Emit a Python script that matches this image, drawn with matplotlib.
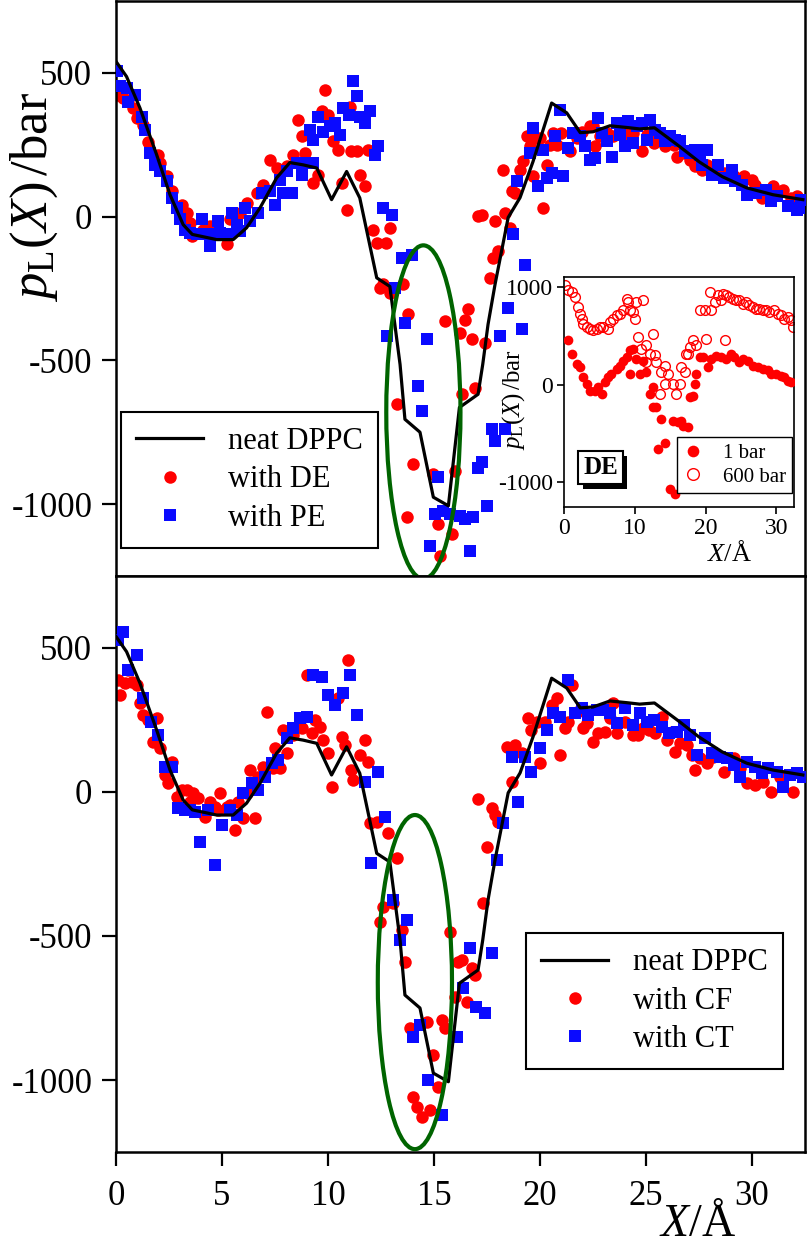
import numpy as np
import matplotlib
matplotlib.use('Agg')
import matplotlib.pyplot as plt
import matplotlib.patheffects as pe
from matplotlib.patches import Ellipse

plt.rcParams['font.family'] = ['Liberation Serif', 'DejaVu Serif']
plt.rcParams['mathtext.fontset'] = 'custom'
plt.rcParams['mathtext.rm'] = 'Liberation Serif'
plt.rcParams['mathtext.it'] = 'Liberation Serif:italic'
plt.rcParams['axes.unicode_minus'] = False

# neat DPPC reference profile
dppc_x = [0, 0.5, 1.13, 1.92, 2.55, 3.17, 3.6, 4.75, 5.53, 6.16, 6.8, 7.58, 8.2, 8.83, 9.47,
          10.17, 10.88, 11.5, 12.3, 12.92, 13.4, 13.63, 14.34, 14.97, 15.68, 16.2, 17.08,
          17.3, 17.55, 17.88, 18.5, 19.06, 19.67, 20.55, 21.26, 21.9, 22.5, 23.3, 24.1,
          24.7, 25.4, 26.6, 27.5, 28.6, 29.75, 31.0, 32.4]
dppc_y = [540, 487, 378, 215, 76, -28, -62, -80, -80, -39, 31, 135, 188, 180, 169,
          59, 157, 65, -213, -243, -514, -705, -750, -976, -1006, -664, -618,
          -514, -375, -236, -3, 66, 191, 395, 361, 292, 295, 316, 310,
          305, 309, 243, 191, 139, 100, 76, 59]

# top panel: with DE
de_x = [0.11, 0.34, 0.58, 0.82, 0.97, 1.29, 1.53, 2.0, 2.07, 2.39, 2.63, 3.1, 3.33, 3.49, 3.57,
        4.1, 4.43, 4.75, 5.22, 5.38, 5.85, 6.16, 6.64, 6.95, 7.26, 7.58, 8.05, 8.36, 8.6,
        8.76, 8.92, 9.3, 9.55, 9.7, 9.86, 10.0, 10.25, 10.49, 10.65, 10.88, 11.04, 11.1,
        11.35, 11.5, 11.75, 11.9, 12.13, 12.29, 12.76, 12.92, 12.45, 12.6, 13.79,
        12.92, 13.55, 15.52, 16.46, 16.62, 17.1, 17.25, 17.88, 18.35, 18.58, 17.64, 17.8,
        18.03, 18.27, 18.66, 18.81, 19.06, 19.21, 19.37, 19.53, 19.76, 20.0, 19.69, 20.16,
        20.31, 20.63, 21.0, 20.79, 20.47, 21.42, 21.73, 21.97, 22.36, 22.6, 22.83, 22.5,
        23.14, 23.45, 23.92, 24.16, 24.4, 24.8, 25.05, 25.36, 25.52, 25.91, 26.3, 26.46,
        26.77, 27.08, 27.32, 27.63, 27.87, 28.26, 28.66, 29.13, 29.6, 30.0, 30.14, 30.46,
        31.0, 31.48, 31.86, 32.1,
        13.24, 14.03, 13.71, 14.97, 15.2, 15.83, 15.28, 15.99, 16.3, 16.23, 16.78, 16.93, 17.41]
de_y = [424, 412, 406, 377, 342, 319, 261, 215, 186, 140, 88, 42, 13, -22, -68,
        -45, -34, -57, -97, -10, 13, 47, 82, 111, 198, 169, 175, 215, 337,
        279, 221, 117, 146, 366, 441, 354, 262, 233, 117, 24, 383, 227,
        227, 146, 105, 233, -45, -91, -91, -39, -248, -236, -340,
        -265, -236, -363, -358, -323, 1, 7, -16, 13, -39, -213, -144,
        -120, 163, 88, 82, 163, 192, 279, 244, 273, 273, 140, 30,
        181, 290, 290, 250, 250, 227, 273, 296, 314, 244, 279, 314,
        290, 279, 296, 279, 290, 227, 285, 256, 267, 244, 250, 209,
        221, 198, 175, 163, 181, 163, 152, 140, 140, 128, 111, 65,
        105, 94, 65, 71,
        -653, -861, -1046, -896, -1069, -1104, -1179, -884, -618, -404, -427, -595, -438]

# top panel: with PE
pe_x = [0.03, 0.19, 0.5, 0.9, 0.58, 1.21, 1.37, 1.6, 1.84, 2.07, 2.39, 2.63, 2.86, 3.02, 3.25,
        3.49, 3.8, 4.04, 4.35, 4.43, 4.82, 4.9, 5.3, 5.45, 5.69, 5.85, 6.08, 6.32, 6.71,
        6.87, 7.26, 7.5, 7.89, 8.28, 7.73, 8.05, 8.52, 8.76, 9.07, 9.15, 9.3, 9.55, 9.3,
        9.78, 10.1, 10.33, 10.57, 10.73, 10.97, 11.2, 11.35, 11.5, 11.75, 11.98, 12.21,
        12.37, 12.6, 13.0, 13.47, 13.16, 13.63,
        13.94, 18.5, 18.74, 19.3, 18.9, 19.53, 19.69, 19.92, 20.16, 20.31, 20.55, 20.71,
        20.94, 21.1, 21.34, 21.57, 21.89, 22.12, 22.36, 22.6, 22.75, 22.91, 23.14, 23.38,
        23.62, 23.77, 24.0, 24.16, 24.4, 24.56, 24.8, 25.05, 25.2, 25.44, 25.68, 25.91,
        26.15, 26.38, 26.62, 26.85, 27.08, 27.32, 27.55, 27.87, 27.63, 28.1, 28.42, 28.66,
        29.05, 29.2, 29.52, 29.75, 30.2, 30.67, 30.9, 31.2, 31.7, 32.1, 32.3, 32.2,
        12.77, 14.66, 14.27, 14.43, 15.2, 15.05, 15.44, 15.75, 16.23, 16.46, 16.86, 14.81,
        16.7, 17.49, 17.1, 17.25, 17.72, 18.35, 17.88, 18.11, 19.14]
pe_y = [505, 453, 447, 424, 400, 348, 302, 221, 181, 157, 123, 65, 30, -10, -45,
        -57, -62, -10, -62, -103, -16, -57, -62, 13, -28, -51, 30, -16, 13,
        82, 88, 42, 82, 82, 128, 157, 186, 146, 186, 302, 186, 348, 267,
        296, 314, 325, 285, 377, 354, 470, 418, 348, 325, 366, 215,
        244, 30, 7, -144, -248, -369,
        -132, -317, -62, -167, 123, 221, 308, 105, 233, 134, 152, 279,
        371, 140, 238, 290, 279, 244, 198, 204, 342, 290, 262, 209,
        325, 285, 244, 331, 256, 314, 325, 267, 337, 302, 290, 262,
        279, 267, 262, 227, 221, 233, 215, 233, 181, 146, 181, 134,
        163, 123, 111, 76, 82, 94, 53, 71, 36, 24, 59, 30,
        -415, -427, -589, -676, -907, -1034, -1023, -1034, -1040, -1052, -1046, -1145,
        -1162, -1006, -873, -855, -740, -740, -780, -415, -392]

# bottom panel: with CF
cf_x = [0.11, 0.19, 0.42, 0.58, 0.74, 0.97, 1.13, 1.29, 1.53, 1.92, 1.76, 2.07, 2.31, 2.47, 2.63,
        2.86, 3.1, 3.33, 3.49, 3.65, 3.88, 4.2, 4.43, 4.67, 4.9, 4.82, 5.22, 5.38, 5.61,
        5.77, 6.0, 6.16, 6.32, 6.56, 6.71, 6.95, 7.11, 7.42, 7.5, 7.73, 7.89, 8.05, 8.36,
        8.76, 9.0, 9.23, 9.38, 9.62, 9.78, 10.0, 10.17, 10.49, 10.65, 10.8, 10.96, 11.1,
        11.2, 11.5, 11.75, 11.9, 11.98, 12.29, 12.84, 13.24, 12.45, 12.6, 13.08, 13.47,
        15.75, 17.09, 17.72, 17.88, 18.03, 18.19, 17.48, 17.33, 18.66, 18.43, 18.82, 19.14,
        19.6, 19.45, 19.84, 20.24, 20.0, 20.94, 20.55, 20.79, 21.5, 21.18, 21.34, 21.73,
        22.04, 22.2, 22.5, 22.75, 23.06, 23.3, 23.45, 23.62, 24.0, 24.4, 24.64, 24.88,
        25.12, 25.44, 25.75, 25.99, 26.23, 26.38, 26.62, 26.93, 27.16, 27.32, 27.55, 27.87,
        28.18, 28.66, 29.13, 29.44, 29.75, 30.14, 30.53, 30.92, 31.3, 31.6, 31.92,
        13.63, 13.87, 14.03, 14.18, 14.42, 14.66, 14.81, 14.97, 15.2, 15.36, 15.52, 15.99,
        16.15, 16.3, 16.54, 16.78, 16.93]
cf_y = [389, 337, 377, 423, 383, 371, 308, 267, 250, 256, 175, 152, 59, 30, 105,
        -16, 7, 7, -34, -5, -22, -86, -34, -51, -5, -62, -51, -45, -132,
        -34, -91, -5, 76, -91, 53, 88, 279, 82, 152, 82, 215, 134, 198,
        221, 406, 204, 250, 227, 181, 134, 18, 325, 192, 163, 458, 76,
        42, 128, 181, 105, -109, -103, -143, -230, -450, -398, -386, -479,
        -485, -25, -57, -80, -103, -103, -190, -386, 36, 157, 163, 134,
        215, 256, 244, 244, 100, 128, 302, 325, 371, 221, 244, 279,
        221, 238, 175, 204, 209, 256, 308, 204, 244, 198, 198, 221,
        215, 204, 262, 181, 209, 140, 169, 163, 128, 76, 117, 100,
        123, 71, 117, 82, 30, 24, 36, 1, 53, 59, 1,
        -589, -820, -1058, -1093, -1127, -797, -1104, -913, -1023, -791, -820, -711,
        -589, -583, -728, -612, -635]

# bottom panel: with CT
ct_x = [0.11, 0.31, 0.97, 0.58, 1.29, 1.65, 1.97, 2.31, 2.63, 2.94, 3.25, 3.49, 3.73, 3.96, 4.35,
        4.67, 4.98, 5.38, 5.69, 6.0, 6.4, 6.71, 7.03, 7.34, 7.66, 8.05, 8.36, 8.68, 9.0,
        9.3, 9.7, 10.0, 10.33, 10.73, 11.04, 11.35, 11.75, 12.37, 12.68, 12.05, 13.08, 13.71,
        13.39, 17.95, 18.27, 18.97, 18.66, 19.29, 19.6, 20.0, 20.31, 20.63, 20.94, 21.34,
        21.65, 21.97, 22.28, 22.67, 22.99, 23.3, 23.62, 24.0, 24.4, 24.72, 25.05, 25.36,
        25.75, 26.07, 26.46, 26.77, 27.08, 27.4, 27.79, 28.1, 28.5, 28.82, 29.13, 29.44,
        29.75, 30.14, 30.46, 30.77, 31.17, 31.48, 31.8, 32.1, 32.4,
        14.03, 14.34, 14.74, 15.36, 16.07, 16.38, 16.7, 17.0, 17.41, 17.72]
ct_y = [528, 557, 476, 423, 325, 244, 198, 88, 88, -57, -62, -62, -68, -172, -62,
        -253, -115, -62, -80, -5, 30, 7, 53, 100, 111, 186, 221, 256, 262,
        406, 400, 337, 302, 342, 406, 267, 36, 71, -86, -248, -375, -444,
        -514, -236, -109, -34, 123, 123, 71, 152, 215, 273, 262, 389,
        273, 290, 267, 285, 285, 273, 238, 290, 233, 273, 244, 250,
        227, 204, 209, 233, 198, 128, 186, 134, 123, 117, 94, 53,
        105, 88, 65, 82, 71, 18, 59, 65, 53,
        -849, -809, -999, -1121, -849, -681, -543, -745, -768, -560]

# inset: DE at 1 bar and 600 bar
de1_x = [0.61, 1.08, 1.78, 2.25, 2.72, 3.19, 3.66, 4.37, 4.84, 5.31, 5.77, 6.24, 6.71, 7.42,
         7.89, 8.36, 8.83, 9.3, 9.77, 9.3, 10.23, 10.7, 11.17, 11.64, 12.11, 12.58, 12.58,
         13.05, 13.76, 13.29, 14.23, 14.93, 15.63, 15.4, 16.1, 16.57, 16.81, 17.51, 17.75,
         18.22, 18.45, 18.69, 19.15, 19.62, 20.33, 20.8, 21.5, 22.2, 22.9, 23.6, 24.08,
         24.79, 25.26, 25.96, 26.67, 27.37, 28.07, 28.78, 29.25, 29.95, 30.66, 31.13, 31.6, 32.07]
de1_y = [451, 315, 212, 178, 75, 7, -62, -62, -27, -96, 24, 75, 109, 161,
         195, 246, 280, 349, 366, 109, 263, 109, 246, 127, -96, -27, -233,
         -233, -352, -660, -592, -1070, -1122, -369, -387, -369, -421, -438, -130,
         -113, 7, 109, 280, 280, 178, 263, 297, 280, 263, 315, 280,
         229, 263, 246, 195, 178, 161, 144, 109, 109, 92, 75, 41, 24]
de600_x = [0.14, 0.61, 1.08, 1.55, 2.0, 2.25, 2.49, 2.72, 3.19, 3.66, 4.13, 4.6, 5.07, 5.54,
           6.24, 6.48, 6.95, 7.42, 7.89, 8.36, 8.83, 9.06, 9.3, 9.77, 10.0, 10.23, 11.17,
           10.47, 10.94, 11.64, 12.11, 12.58, 12.82, 13.05, 11.64, 13.52, 13.76, 14.23, 14.23,
           14.7, 15.4, 15.87, 16.34, 16.57, 17.04, 17.28, 17.75, 18.22, 18.69, 17.51, 19.15,
           19.86, 20.09, 20.8, 20.56, 21.27, 21.74, 22.2, 22.44, 22.9, 22.68, 23.38, 23.85,
           24.32, 24.79, 25.26, 25.73, 26.2, 26.67, 27.14, 27.6, 28.07, 28.54, 29.0, 29.7,
           30.19, 30.66, 31.13, 31.6, 32.07, 32.3]
de600_y = [1016, 964, 947, 896, 793, 725, 674, 622, 588, 571, 554, 571, 588, 588,
           571, 640, 674, 708, 725, 759, 879, 845, 759, 742, 674, 845, 862,
           486, 366, 400, 315, 520, 298, 229, 229, -96, 127, 195, 7,
           109, 7, -96, 7, 178, 127, 315, 383, 451, 400, 315, 759,
           759, 469, 759, 947, 845, 913, 862, 930, 913, 451, 896, 879,
           862, 862, 827, 845, 810, 793, 776, 776, 759, 759, 742, 759,
           725, 708, 674, 691, 657, 588]

red = '#ff0000'
blue = '#0a0aff'
green = '#006400'

fig = plt.figure(figsize=(8.07, 12.48), dpi=100)
ax1 = fig.add_axes([0.1437, 0.5385, 0.8538, 0.4607])
ax2 = fig.add_axes([0.1437, 0.0769, 0.8538, 0.4616])


def panel(ax, rx, ry, bx, by, rlab, blab, ell):
    ax.plot(dppc_x, dppc_y, color='black', lw=2.3, label='neat DPPC', zorder=4)
    ax.plot(rx, ry, 'o', color=red, ms=9, mew=0, label=rlab, zorder=2)
    ax.plot(bx, by, 's', color=blue, ms=8, mew=0, label=blab, zorder=3)
    ax.add_patch(Ellipse(ell, 3.5, 1160, fill=False, ec=green, lw=3, zorder=5))
    ax.set_xlim(0, 32.5)
    ax.set_ylim(-1250, 750)
    ax.set_yticks([-1000, -500, 0, 500])
    ax.set_xticks([0, 5, 10, 15, 20, 25, 30])
    ax.tick_params(direction='out', length=10, width=1.6, labelsize=25, pad=7,
                   right=False, top=False)
    for s in ax.spines.values():
        s.set_linewidth(1.8)


panel(ax1, de_x, de_y, pe_x, pe_y, 'with DE', 'with PE', (14.5, -680))
panel(ax2, cf_x, cf_y, ct_x, ct_y, 'with CF', 'with CT', (14.1, -660))
ax1.tick_params(axis='x', bottom=False, labelbottom=False)
ax2.tick_params(axis='x', pad=10)

leg_kw = dict(fontsize=22, frameon=True, fancybox=False, edgecolor='black', framealpha=1,
              borderaxespad=0, handlelength=2.2, labelspacing=0.3, numpoints=1,
              handletextpad=0.8, borderpad=0.5)
l1 = ax1.legend(loc='lower left', bbox_to_anchor=(0.007, 0.049), **leg_kw)
l2 = ax2.legend(loc='upper right', bbox_to_anchor=(0.968, 0.380), **leg_kw)
for lg in (l1, l2):
    lg.get_frame().set_linewidth(1.5)

fig.text(0.043, 0.842, r'$p_\mathrm{L}(X)\,/\mathrm{bar}$', rotation=90,
         ha='center', va='center', fontsize=38)
fig.text(0.865, 0.002, r'$X$/Å', ha='center', va='bottom', fontsize=33)

# inset
axi = fig.add_axes([0.6989, 0.5938, 0.285, 0.1843])
axi.plot(de600_x, de600_y, 'o', mfc='none', mec=red, mew=1, ms=7, label='600 bar', zorder=2)
axi.plot(de1_x, de1_y, 'o', color=red, ms=7, mew=0, label='1 bar', zorder=3)
axi.set_xlim(0, 32.5)
axi.set_ylim(-1250, 1100)
axi.set_xticks([0, 10, 20, 30])
axi.set_yticks([-1000, 0, 1000])
axi.tick_params(direction='out', length=5, width=1.2, labelsize=17, pad=3)
for s in axi.spines.values():
    s.set_linewidth(1.2)
axi.set_ylabel(r'$p_\mathrm{L}(X)\,/\mathrm{bar}$', fontsize=18)
axi.yaxis.set_label_coords(-0.16, 0.465)
axi.set_xlabel(r'$X$/Å', fontsize=19)
axi.xaxis.set_label_coords(0.72, -0.15)
h, lab = axi.get_legend_handles_labels()
li = axi.legend(h[::-1], lab[::-1], loc='lower right', bbox_to_anchor=(0.991, 0.061),
                fontsize=15, fancybox=False, edgecolor='black', framealpha=1,
                borderaxespad=0, numpoints=1, handlelength=1.0, labelspacing=0.2,
                handletextpad=0.9, borderpad=0.3, markerscale=1.2)
li.get_frame().set_linewidth(1.0)

de_tag = axi.text(0.16, 0.17, 'DE', transform=axi.transAxes, fontsize=18, fontweight='bold',
                  ha='center', va='center',
                  bbox=dict(boxstyle='square,pad=0.2', fc='white', ec='black', lw=1.5))
de_tag.get_bbox_patch().set_path_effects(
    [pe.SimplePatchShadow(offset=(3, -3), shadow_rgbFace='black', alpha=1), pe.Normal()])

fig.savefig('out.png', dpi=100)
